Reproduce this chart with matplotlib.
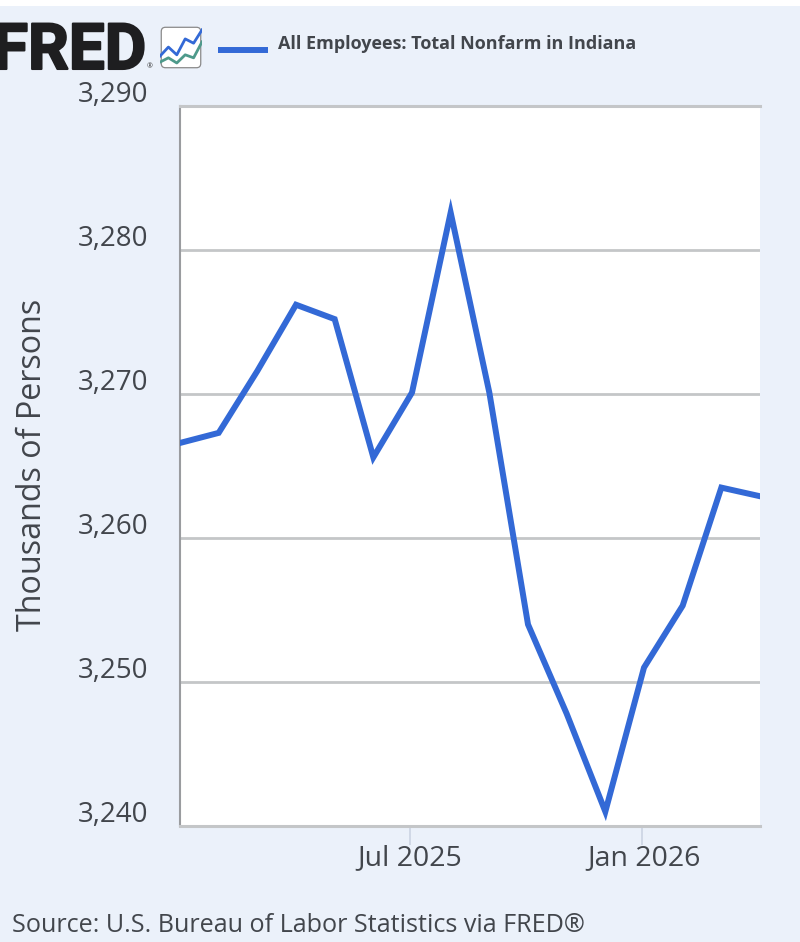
#!/usr/bin/env python3

import matplotlib
matplotlib.use( 'Agg' )
import matplotlib.pyplot as plt
import matplotlib.patheffects as pe
from matplotlib.patches import FancyBboxPatch, Rectangle
from matplotlib.transforms import ScaledTranslation

plt.rcParams['font.family'] = ['Open Sans', 'DejaVu Sans']

months = [ 'Jan 2025', 'Feb 2025', 'Mar 2025', 'Apr 2025', 'May 2025', 'Jun 2025',
           'Jul 2025', 'Aug 2025', 'Sep 2025', 'Oct 2025', 'Nov 2025', 'Dec 2025',
           'Jan 2026', 'Feb 2026', 'Mar 2026', 'Apr 2026' ]
employees = [ 3266.6, 3267.3, 3271.6, 3276.2, 3275.2, 3265.6, 3270.1, 3282.6,
              3270.1, 3254.0, 3247.8, 3241.0, 3251.0, 3255.3, 3263.5, 3262.9 ]
yticks = [ 3240, 3250, 3260, 3270, 3280, 3290 ]
xtick_labels = [ 'Jul 2025', 'Jan 2026' ]

icon_blue  = [ 0.30, 0.51, 0.33, 0.70, 0.60, 0.91 ]
icon_green = [ 0.16, 0.26, 0.14, 0.33, 0.26, 0.63 ]

W, H = 800, 942
bg = '#EBF1FA'
blue = '#3369D6'
text = '#42464C'
grid = '#C4C6C8'

fig = plt.figure( figsize = ( W/100, H/100 ), dpi = 100, facecolor = 'white' )
fig.patches.append( Rectangle( ( 0, 0 ), 1, 1 - 6/H, transform = fig.transFigure,
                               fc = bg, ec = 'none', zorder = -10 ) )

ax = fig.add_axes( [ 180/W, 1 - 826/H, 580/W, 720/H ], facecolor = 'white' )

x = list( range( len( months ) ) )
ax.plot( x, employees, c = blue, lw = 4.3, solid_joinstyle = 'miter', zorder = 3 )
ax.set_xlim( 0, len( months ) - 1 )
ax.set_ylim( 3240, 3290 )

ax.set_yticks( yticks )
ax.set_yticklabels( [ '{:,}'.format( t ) for t in yticks ], fontsize = 20, color = text )
ax.tick_params( axis = 'y', length = 0, pad = 23 )
shift = ScaledTranslation( 0, 15/100, fig.dpi_scale_trans )
for lab in ax.get_yticklabels():
    lab.set_transform( lab.get_transform() + shift )
ax.grid( axis = 'y', color = grid, lw = 2.0, zorder = 1 )

ax.set_xticks( [ months.index( m ) - 0.05 for m in xtick_labels ] )
ax.set_xticklabels( xtick_labels, fontsize = 20.5, color = text )
ax.tick_params( axis = 'x', length = 14, width = 1.2, color = '#CBD3E3', pad = -1 )
lab = ax.get_xticklabels()[1]
lab.set_transform( lab.get_transform() + ScaledTranslation( 2/100, 0, fig.dpi_scale_trans ) )

for s in [ 'top', 'bottom' ]:
    ax.spines[s].set_color( grid )
    ax.spines[s].set_linewidth( 2.2 )
ax.spines['left'].set_color( '#9A9C9F' )
ax.spines['left'].set_linewidth( 1.5 )
ax.spines['right'].set_visible( False )

fig.text( 33/W, 1 - 465/H, 'Thousands of Persons', rotation = 90, fontsize = 23.2,
          color = text, ha = 'center', va = 'center' )
fig.text( 12/W, 1 - 925/H, 'Source: U.S. Bureau of Labor Statistics via FRED®',
          fontsize = 18.1, color = text, ha = 'left', va = 'center' )

# header: logo, icon, legend
logo = fig.text( 146/W, 1 - 69/H, 'FRED', family = 'Roboto', weight = 'bold',
                 fontsize = 46, color = '#1E1E20', ha = 'right', va = 'baseline' )
logo.set_path_effects( [ pe.withStroke( linewidth = 1.5, foreground = '#1E1E20' ) ] )
fig.text( 150/W, 1 - 67/H, '®', fontsize = 5, color = '#333333', ha = 'center', va = 'center' )

icon = fig.add_axes( [ 160/W, 1 - 69/H, 42/W, 43/H ], facecolor = 'none' )
icon.add_patch( FancyBboxPatch( ( 0.03, 0.03 ), 0.94, 0.94, boxstyle = 'round,pad=0.0,rounding_size=0.1',
                                transform = icon.transAxes, fc = 'white', ec = '#8A8A8A', lw = 0.9 ) )
icon.plot( icon_blue, c = blue, lw = 2.0 )
icon.plot( icon_green, c = '#4E9A8B', lw = 2.0 )
icon.set_xlim( 0, len( icon_blue ) - 1 )
icon.set_ylim( 0, 1 )
icon.axis( 'off' )

fig.add_artist( plt.Line2D( [ 218/W, 268/W ], [ 1 - 50/H, 1 - 50/H ], c = blue,
                            lw = 4.3, solid_capstyle = 'butt' ) )
fig.text( 278/W, 1 - 44/H, 'All Employees: Total Nonfarm in Indiana', weight = 'bold',
          fontsize = 13, color = text, ha = 'left', va = 'center' )

fig.savefig( 'out.png', dpi = 100, facecolor = 'white' )
